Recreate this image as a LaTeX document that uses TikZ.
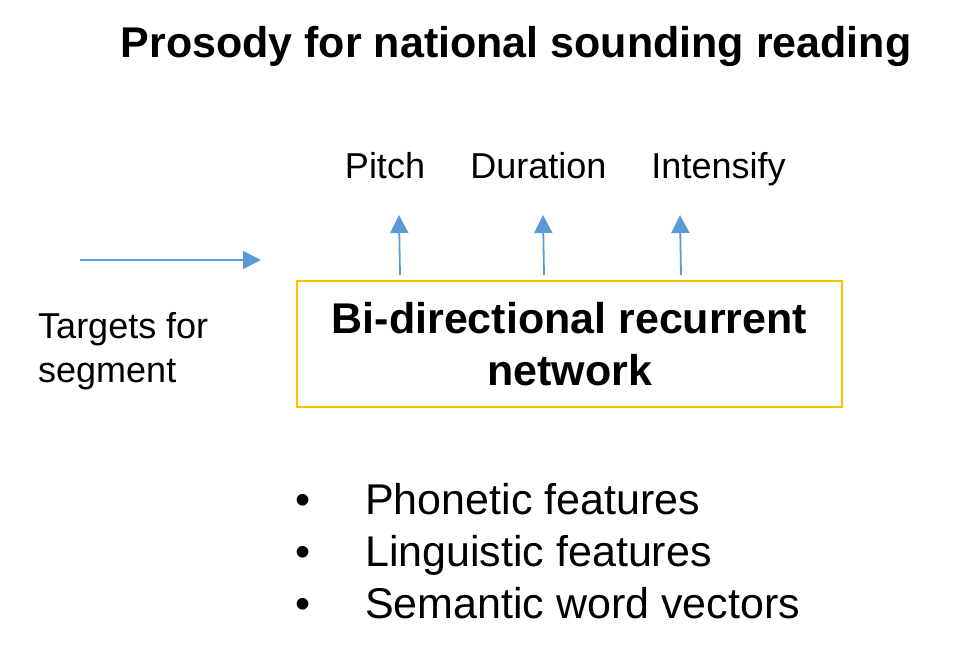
\documentclass[tikz,border=0pt]{standalone}
\usepackage{fontspec}
\setmainfont{Liberation Sans}
\usetikzlibrary{arrows.meta}
\definecolor{arrowblue}{RGB}{91,155,213}
\definecolor{boxorange}{RGB}{255,192,0}

\begin{document}
\begin{tikzpicture}[x=1pt,y=-1pt,
	flow/.style={draw=arrowblue, line width=1.8pt, -{Triangle[width=18pt,length=18pt]}},
	txt/.style={font={\fontsize{36}{44}\selectfont}, inner sep=0pt},
	bigtxt/.style={font={\fontsize{43}{52}\selectfont}, inner sep=0pt}]
	\useasboundingbox (0,0) rectangle (976,661);
	% title and network box
	\node[inner sep=0pt, anchor=base, font={\bfseries\fontsize{43}{52}\selectfont}] (title) at (516,58) {Prosody for national sounding reading};
	\node[draw=boxorange, line width=2pt, minimum width=545pt, minimum height=126pt, inner sep=0pt,
		align=center, font={\bfseries\fontsize{43}{52}\selectfont}] (net) at (569.5,344) {Bi-directional recurrent\\network};
	% outputs
	\foreach \nm/\lab/\xl/\xa/\xb in {pitch/Pitch/385/400/399, duration/Duration/538.5/544/543, intensify/Intensify/718.5/681/680} {
		\node[txt, anchor=base] (\nm) at (\xl,178) {\lab};
		\coordinate (\nm-in) at (\xa,275);
		\coordinate (\nm-out) at (\xb,215);
		\draw[flow] (\nm-in) -- (\nm-out);
	}
	% input
	\node[txt, anchor=base west, align=left] (targets) at (38,382) {Targets for\\segment};
	\coordinate (in-start) at (80,260);
	\coordinate (in-end) at (261,260);
	\draw[flow] (in-start) -- (in-end);
	% input features
	\foreach \lab [count=\i] in {Phonetic features, Linguistic features, Semantic word vectors} {
		\node[bigtxt, anchor=base] (dot\i) at (303,462+52*\i) {\textbullet};
		\node[bigtxt, anchor=base west] (feat\i) at (365,462+52*\i) {\lab};
	}
\end{tikzpicture}
\end{document}
